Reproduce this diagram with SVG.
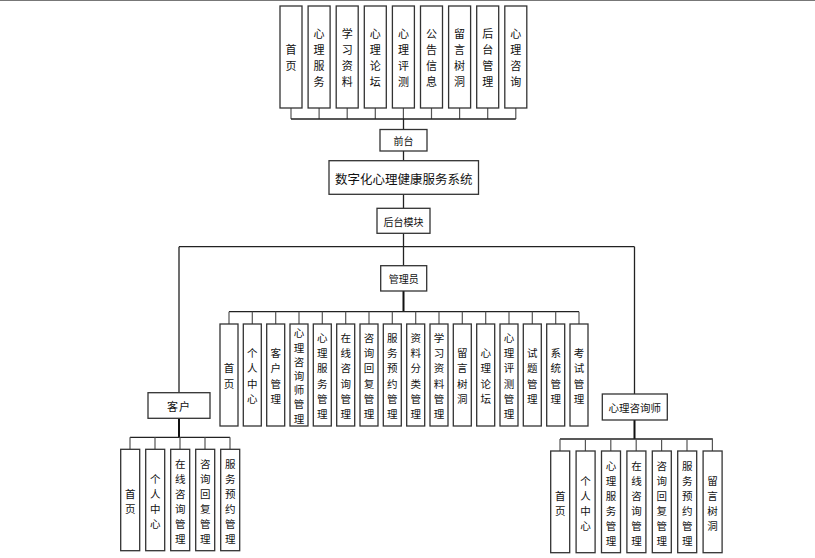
<svg xmlns="http://www.w3.org/2000/svg" width="815" height="558" viewBox="0 0 815 558">
<style>
.bx{fill:#fff;stroke:#333;stroke-width:1.3}
.ln{fill:none;stroke:#222;stroke-width:1.3}
.st{fill:none;stroke:#555;stroke-width:1.2}
.tk{fill:none;stroke:#111;stroke-width:2}
text{font-family:"Noto Sans CJK SC","Noto Sans CJK JP",sans-serif;fill:#111;text-anchor:middle;dominant-baseline:central}
.t1{font-size:11px}
.t2{font-size:10.5px}
.lb{font-size:10px}
</style>
<rect width="815" height="558" fill="#fff"/>
<line x1="0" y1="0.5" x2="815" y2="0.5" stroke="#777" stroke-width="1.2"/>
<g id="connectors">
<path class="st" d="M291,108V119M319.1,108V119M347.2,108V119M375.3,108V119M403.4,108V119M431.5,108V119M459.6,108V119M487.7,108V119M515.8,108V119"/>
<path class="ln" d="M291,119H515.8M403.5,119V129.5M403.5,151V160.7M403.5,194.3V208.3M403.5,233.3V265.7M179,246.7H634.5M179,246.7V392.7M634.5,246.7V394"/>
<path class="tk" d="M403.5,291V311.7M179,418.3V437.3M634.5,420V439"/>
<path class="ln" d="M229,311.7H579M130,437.3H230M560,439H712.8"/>
<path class="st" d="M229,311.7V324M252.3,311.7V324M275.7,311.7V324M299,311.7V324M322.3,311.7V324M345.7,311.7V324M369,311.7V324M392.3,311.7V324M415.7,311.7V324M439,311.7V324M462.3,311.7V324M485.7,311.7V324M509,311.7V324M532.3,311.7V324M555.7,311.7V324M579,311.7V324"/>
<path class="st" d="M130,437.3V449.3M155,437.3V449.3M180,437.3V449.3M205,437.3V449.3M230,437.3V449.3"/>
<path class="st" d="M560,439V451M585.4,439V451M610.8,439V451M636.2,439V451M661.6,439V451M687,439V451M712.4,439V451"/>
</g>
<g id="front-items">
<g id="f1"><rect class="bx" x="280" y="6" width="22" height="102"/><text class="t1"><tspan x="291" y="49">首</tspan><tspan x="291" y="65">页</tspan></text></g>
<g id="f2"><rect class="bx" x="308.1" y="6" width="22" height="102"/><text class="t1"><tspan x="319.1" y="33">心</tspan><tspan x="319.1" y="49">理</tspan><tspan x="319.1" y="65">服</tspan><tspan x="319.1" y="81">务</tspan></text></g>
<g id="f3"><rect class="bx" x="336.2" y="6" width="22" height="102"/><text class="t1"><tspan x="347.2" y="33">学</tspan><tspan x="347.2" y="49">习</tspan><tspan x="347.2" y="65">资</tspan><tspan x="347.2" y="81">料</tspan></text></g>
<g id="f4"><rect class="bx" x="364.3" y="6" width="22" height="102"/><text class="t1"><tspan x="375.3" y="33">心</tspan><tspan x="375.3" y="49">理</tspan><tspan x="375.3" y="65">论</tspan><tspan x="375.3" y="81">坛</tspan></text></g>
<g id="f5"><rect class="bx" x="392.4" y="6" width="22" height="102"/><text class="t1"><tspan x="403.4" y="33">心</tspan><tspan x="403.4" y="49">理</tspan><tspan x="403.4" y="65">评</tspan><tspan x="403.4" y="81">测</tspan></text></g>
<g id="f6"><rect class="bx" x="420.5" y="6" width="22" height="102"/><text class="t1"><tspan x="431.5" y="33">公</tspan><tspan x="431.5" y="49">告</tspan><tspan x="431.5" y="65">信</tspan><tspan x="431.5" y="81">息</tspan></text></g>
<g id="f7"><rect class="bx" x="448.6" y="6" width="22" height="102"/><text class="t1"><tspan x="459.6" y="33">留</tspan><tspan x="459.6" y="49">言</tspan><tspan x="459.6" y="65">树</tspan><tspan x="459.6" y="81">洞</tspan></text></g>
<g id="f8"><rect class="bx" x="476.7" y="6" width="22" height="102"/><text class="t1"><tspan x="487.7" y="33">后</tspan><tspan x="487.7" y="49">台</tspan><tspan x="487.7" y="65">管</tspan><tspan x="487.7" y="81">理</tspan></text></g>
<g id="f9"><rect class="bx" x="504.8" y="6" width="22" height="102"/><text class="t1"><tspan x="515.8" y="33">心</tspan><tspan x="515.8" y="49">理</tspan><tspan x="515.8" y="65">咨</tspan><tspan x="515.8" y="81">询</tspan></text></g>
</g>
<g id="qiantai"><rect class="bx" x="380" y="129.5" width="47" height="21.5"/><text class="lb" x="403.5" y="140.5">前台</text></g>
<g id="system"><rect class="bx" x="329" y="160.7" width="149.5" height="33.6"/><text x="403.7" y="178" font-size="12.5px">数字化心理健康服务系统</text></g>
<g id="houtai"><rect class="bx" x="377" y="208.3" width="53" height="25"/><text class="lb" x="403.5" y="221">后台模块</text></g>
<g id="admin"><rect class="bx" x="380.7" y="265.7" width="46" height="25.3"/><text class="lb" x="403.7" y="278.5">管理员</text></g>
<g id="admin-items">
<g id="a1"><rect class="bx" x="220" y="324" width="18" height="102"/><text class="t2"><tspan x="229" y="367.4">首</tspan><tspan x="229" y="382.6">页</tspan></text></g>
<g id="a2"><rect class="bx" x="243.3" y="324" width="18" height="102"/><text class="t2"><tspan x="252.3" y="352">个</tspan><tspan x="252.3" y="367.4">人</tspan><tspan x="252.3" y="382.6">中</tspan><tspan x="252.3" y="398">心</tspan></text></g>
<g id="a3"><rect class="bx" x="266.7" y="324" width="18" height="102"/><text class="t2"><tspan x="275.7" y="352">客</tspan><tspan x="275.7" y="367.4">户</tspan><tspan x="275.7" y="382.6">管</tspan><tspan x="275.7" y="398">理</tspan></text></g>
<g id="a4"><rect class="bx" x="290" y="324" width="18" height="102"/><text class="t2"><tspan x="299" y="332.4">心</tspan><tspan x="299" y="346.6">理</tspan><tspan x="299" y="360.8">咨</tspan><tspan x="299" y="375">询</tspan><tspan x="299" y="389.2">师</tspan><tspan x="299" y="403.4">管</tspan><tspan x="299" y="417.6">理</tspan></text></g>
<g id="a5"><rect class="bx" x="313.3" y="324" width="18" height="102"/><text class="t2"><tspan x="322.3" y="336.8">心</tspan><tspan x="322.3" y="352">理</tspan><tspan x="322.3" y="367.4">服</tspan><tspan x="322.3" y="382.6">务</tspan><tspan x="322.3" y="398">管</tspan><tspan x="322.3" y="413.2">理</tspan></text></g>
<g id="a6"><rect class="bx" x="336.7" y="324" width="18" height="102"/><text class="t2"><tspan x="345.7" y="336.8">在</tspan><tspan x="345.7" y="352">线</tspan><tspan x="345.7" y="367.4">咨</tspan><tspan x="345.7" y="382.6">询</tspan><tspan x="345.7" y="398">管</tspan><tspan x="345.7" y="413.2">理</tspan></text></g>
<g id="a7"><rect class="bx" x="360" y="324" width="18" height="102"/><text class="t2"><tspan x="369" y="336.8">咨</tspan><tspan x="369" y="352">询</tspan><tspan x="369" y="367.4">回</tspan><tspan x="369" y="382.6">复</tspan><tspan x="369" y="398">管</tspan><tspan x="369" y="413.2">理</tspan></text></g>
<g id="a8"><rect class="bx" x="383.3" y="324" width="18" height="102"/><text class="t2"><tspan x="392.3" y="336.8">服</tspan><tspan x="392.3" y="352">务</tspan><tspan x="392.3" y="367.4">预</tspan><tspan x="392.3" y="382.6">约</tspan><tspan x="392.3" y="398">管</tspan><tspan x="392.3" y="413.2">理</tspan></text></g>
<g id="a9"><rect class="bx" x="406.7" y="324" width="18" height="102"/><text class="t2"><tspan x="415.7" y="336.8">资</tspan><tspan x="415.7" y="352">料</tspan><tspan x="415.7" y="367.4">分</tspan><tspan x="415.7" y="382.6">类</tspan><tspan x="415.7" y="398">管</tspan><tspan x="415.7" y="413.2">理</tspan></text></g>
<g id="a10"><rect class="bx" x="430" y="324" width="18" height="102"/><text class="t2"><tspan x="439" y="336.8">学</tspan><tspan x="439" y="352">习</tspan><tspan x="439" y="367.4">资</tspan><tspan x="439" y="382.6">料</tspan><tspan x="439" y="398">管</tspan><tspan x="439" y="413.2">理</tspan></text></g>
<g id="a11"><rect class="bx" x="453.3" y="324" width="18" height="102"/><text class="t2"><tspan x="462.3" y="352">留</tspan><tspan x="462.3" y="367.4">言</tspan><tspan x="462.3" y="382.6">树</tspan><tspan x="462.3" y="398">洞</tspan></text></g>
<g id="a12"><rect class="bx" x="476.7" y="324" width="18" height="102"/><text class="t2"><tspan x="485.7" y="352">心</tspan><tspan x="485.7" y="367.4">理</tspan><tspan x="485.7" y="382.6">论</tspan><tspan x="485.7" y="398">坛</tspan></text></g>
<g id="a13"><rect class="bx" x="500" y="324" width="18" height="102"/><text class="t2"><tspan x="509" y="336.8">心</tspan><tspan x="509" y="352">理</tspan><tspan x="509" y="367.4">评</tspan><tspan x="509" y="382.6">测</tspan><tspan x="509" y="398">管</tspan><tspan x="509" y="413.2">理</tspan></text></g>
<g id="a14"><rect class="bx" x="523.3" y="324" width="18" height="102"/><text class="t2"><tspan x="532.3" y="352">试</tspan><tspan x="532.3" y="367.4">题</tspan><tspan x="532.3" y="382.6">管</tspan><tspan x="532.3" y="398">理</tspan></text></g>
<g id="a15"><rect class="bx" x="546.7" y="324" width="18" height="102"/><text class="t2"><tspan x="555.7" y="352">系</tspan><tspan x="555.7" y="367.4">统</tspan><tspan x="555.7" y="382.6">管</tspan><tspan x="555.7" y="398">理</tspan></text></g>
<g id="a16"><rect class="bx" x="570" y="324" width="18" height="102"/><text class="t2"><tspan x="579" y="352">考</tspan><tspan x="579" y="367.4">试</tspan><tspan x="579" y="382.6">管</tspan><tspan x="579" y="398">理</tspan></text></g>
</g>
<g id="client"><rect class="bx" x="148" y="392.7" width="62" height="25.6"/><text x="179" y="405.5" font-size="11px" letter-spacing="1">客户</text></g>
<g id="client-items">
<g id="c1"><rect class="bx" x="120.7" y="449.3" width="19" height="101.4"/><text class="t2"><tspan x="130.2" y="492.5">首</tspan><tspan x="130.2" y="507.5">页</tspan></text></g>
<g id="c2"><rect class="bx" x="145.7" y="449.3" width="19" height="101.4"/><text class="t2"><tspan x="155.2" y="477.5">个</tspan><tspan x="155.2" y="492.5">人</tspan><tspan x="155.2" y="507.5">中</tspan><tspan x="155.2" y="522.5">心</tspan></text></g>
<g id="c3"><rect class="bx" x="170.7" y="449.3" width="19" height="101.4"/><text class="t2"><tspan x="180.2" y="462.5">在</tspan><tspan x="180.2" y="477.5">线</tspan><tspan x="180.2" y="492.5">咨</tspan><tspan x="180.2" y="507.5">询</tspan><tspan x="180.2" y="522.5">管</tspan><tspan x="180.2" y="537.5">理</tspan></text></g>
<g id="c4"><rect class="bx" x="195.7" y="449.3" width="19" height="101.4"/><text class="t2"><tspan x="205.2" y="462.5">咨</tspan><tspan x="205.2" y="477.5">询</tspan><tspan x="205.2" y="492.5">回</tspan><tspan x="205.2" y="507.5">复</tspan><tspan x="205.2" y="522.5">管</tspan><tspan x="205.2" y="537.5">理</tspan></text></g>
<g id="c5"><rect class="bx" x="220.7" y="449.3" width="19" height="101.4"/><text class="t2"><tspan x="230.2" y="462.5">服</tspan><tspan x="230.2" y="477.5">务</tspan><tspan x="230.2" y="492.5">预</tspan><tspan x="230.2" y="507.5">约</tspan><tspan x="230.2" y="522.5">管</tspan><tspan x="230.2" y="537.5">理</tspan></text></g>
</g>
<g id="counselor"><rect class="bx" x="602.3" y="394" width="65" height="26"/><text x="634.8" y="407" font-size="10.5px">心理咨询师</text></g>
<g id="counselor-items">
<g id="p1"><rect class="bx" x="550.7" y="451" width="19" height="101.7"/><text class="t2"><tspan x="560.2" y="494.5">首</tspan><tspan x="560.2" y="509.5">页</tspan></text></g>
<g id="p2"><rect class="bx" x="576.1" y="451" width="19" height="101.7"/><text class="t2"><tspan x="585.6" y="479.5">个</tspan><tspan x="585.6" y="494.5">人</tspan><tspan x="585.6" y="509.5">中</tspan><tspan x="585.6" y="524.5">心</tspan></text></g>
<g id="p3"><rect class="bx" x="601.5" y="451" width="19" height="101.7"/><text class="t2"><tspan x="611" y="464.5">心</tspan><tspan x="611" y="479.5">理</tspan><tspan x="611" y="494.5">服</tspan><tspan x="611" y="509.5">务</tspan><tspan x="611" y="524.5">管</tspan><tspan x="611" y="539.5">理</tspan></text></g>
<g id="p4"><rect class="bx" x="626.9" y="451" width="19" height="101.7"/><text class="t2"><tspan x="636.4" y="464.5">在</tspan><tspan x="636.4" y="479.5">线</tspan><tspan x="636.4" y="494.5">咨</tspan><tspan x="636.4" y="509.5">询</tspan><tspan x="636.4" y="524.5">管</tspan><tspan x="636.4" y="539.5">理</tspan></text></g>
<g id="p5"><rect class="bx" x="652.3" y="451" width="19" height="101.7"/><text class="t2"><tspan x="661.8" y="464.5">咨</tspan><tspan x="661.8" y="479.5">询</tspan><tspan x="661.8" y="494.5">回</tspan><tspan x="661.8" y="509.5">复</tspan><tspan x="661.8" y="524.5">管</tspan><tspan x="661.8" y="539.5">理</tspan></text></g>
<g id="p6"><rect class="bx" x="677.7" y="451" width="19" height="101.7"/><text class="t2"><tspan x="687.2" y="464.5">服</tspan><tspan x="687.2" y="479.5">务</tspan><tspan x="687.2" y="494.5">预</tspan><tspan x="687.2" y="509.5">约</tspan><tspan x="687.2" y="524.5">管</tspan><tspan x="687.2" y="539.5">理</tspan></text></g>
<g id="p7"><rect class="bx" x="703.1" y="451" width="19" height="101.7"/><text class="t2"><tspan x="712.6" y="479.5">留</tspan><tspan x="712.6" y="494.5">言</tspan><tspan x="712.6" y="509.5">树</tspan><tspan x="712.6" y="524.5">洞</tspan></text></g>
</g>
</svg>
